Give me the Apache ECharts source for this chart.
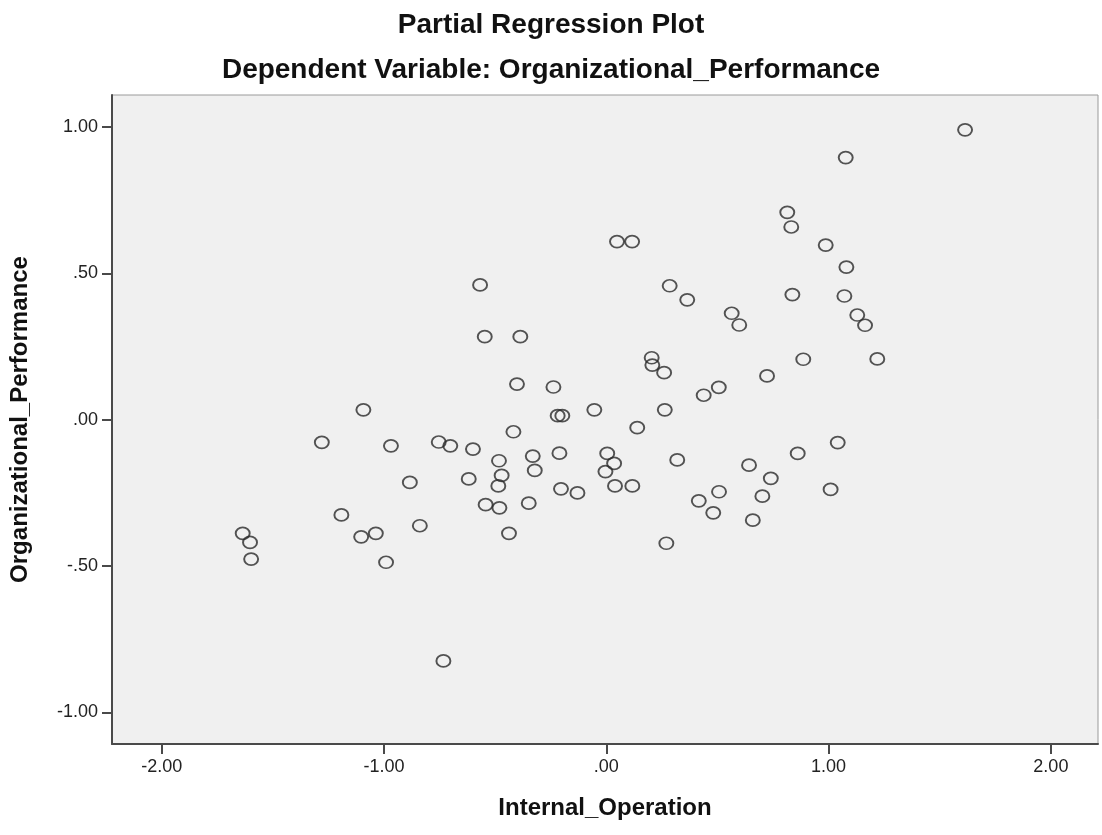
<!DOCTYPE html>
<html>
<head>
<meta charset="utf-8">
<title>Partial Regression Plot</title>
<script src="https://cdn.jsdelivr.net/npm/echarts@6/dist/echarts.min.js"></script>
<style>
    html, body { margin: 0; padding: 0; background: #fff; }
    #chart { width: 1102px; height: 835px; }
</style>
</head>
<body>
<div id="chart"></div>
<script>
    // residuals
    var internalOperation = [
        1.614, 1.077, 0.814, 0.832, 0.987, 0.048, 0.116, 1.080, -0.568, 0.285,
        0.364, 0.837, 1.071, 0.564, 0.598, 1.129, 1.164, -0.547, -0.387, 0.204,
        0.207, 0.260, 0.886, 1.219, 0.723, -0.402, -0.238, 0.506, 0.438, -1.093,
        -0.054, 0.263, -0.219, -0.198, 0.139, -1.280, -0.969, -0.754, -0.702, -0.600,
        -0.418, -0.483, -0.331, -0.211, 0.004, 0.035, -0.004, 0.319, 0.642, 0.740,
        0.861, 1.041, 1.009, -0.322, -0.884, -0.619, -0.471, -0.486, -0.204, -0.130,
        0.039, 0.117, 0.507, 0.416, 0.481, 0.702, 0.659, -0.543, -0.481, -0.349,
        -1.192, -0.438, -1.636, -1.603, -1.598, -1.103, -1.037, -0.839, -0.991, 0.270,
        -0.733
    ];
    var orgPerformance = [
        0.991, 0.896, 0.709, 0.659, 0.597, 0.609, 0.609, 0.522, 0.461, 0.458,
        0.410, 0.428, 0.423, 0.364, 0.324, 0.358, 0.323, 0.284, 0.284, 0.212,
        0.187, 0.161, 0.207, 0.208, 0.150, 0.122, 0.112, 0.111, 0.084, 0.034,
        0.034, 0.034, 0.014, 0.014, -0.027, -0.077, -0.089, -0.076, -0.089, -0.100,
        -0.041, -0.140, -0.124, -0.114, -0.115, -0.149, -0.177, -0.137, -0.155, -0.200,
        -0.115, -0.078, -0.238, -0.173, -0.214, -0.202, -0.190, -0.226, -0.236, -0.250,
        -0.226, -0.226, -0.246, -0.277, -0.318, -0.261, -0.343, -0.290, -0.301, -0.285,
        -0.325, -0.388, -0.388, -0.419, -0.476, -0.400, -0.388, -0.362, -0.487, -0.422,
        -0.824
    ];
    var xTicks = [-2, -1, 0, 1, 2];
    var yTicks = [-1, -0.5, 0, 0.5, 1];

    var points = internalOperation.map(function (x, i) {
        return [x, orgPerformance[i]];
    });

    // SPSS style: 1.00, .50, .00, -.50
    function spssLabel(v) {
        return v.toFixed(2).replace(/^(-?)0\./, '$1.');
    }

    var font = 'Liberation Sans, Arial, sans-serif';

    var chart = echarts.init(document.getElementById('chart'));
    chart.setOption({
        backgroundColor: '#ffffff',
        animation: false,
        title: [
            {
                text: 'Partial Regression Plot',
                left: 'center',
                top: 6,
                textStyle: { fontFamily: font, fontSize: 28, fontWeight: 'bold', color: '#111' }
            },
            {
                text: 'Dependent Variable: Organizational_Performance',
                left: 'center',
                top: 51,
                textStyle: { fontFamily: font, fontSize: 28, fontWeight: 'bold', color: '#111' }
            }
        ],
        grid: {
            left: 112,
            right: 4,
            top: 95,
            bottom: 91,
            show: true,
            backgroundColor: '#f0f0f0',
            borderColor: '#9a9a9a',
            borderWidth: 1
        },
        xAxis: {
            type: 'value',
            min: -2.224,
            max: 2.212,
            name: 'Internal_Operation',
            nameLocation: 'middle',
            nameGap: 52,
            nameTextStyle: { fontFamily: font, fontSize: 24, fontWeight: 'bold', color: '#111' },
            axisLine: { show: true, onZero: false, lineStyle: { color: '#4a4a4a', width: 2 } },
            axisTick: { show: true, length: 10, customValues: xTicks, lineStyle: { color: '#4a4a4a', width: 2 } },
            axisLabel: {
                customValues: xTicks,
                margin: 14,
                fontFamily: font,
                fontSize: 18,
                color: '#222',
                formatter: spssLabel
            },
            splitLine: { show: false }
        },
        yAxis: {
            type: 'value',
            min: -1.108,
            max: 1.110,
            name: 'Organizational_Performance',
            nameLocation: 'middle',
            nameRotate: 90,
            nameGap: 80,
            nameTextStyle: { fontFamily: font, fontSize: 24, fontWeight: 'bold', color: '#111' },
            axisLine: { show: true, onZero: false, lineStyle: { color: '#4a4a4a', width: 2 } },
            axisTick: { show: true, length: 10, customValues: yTicks, lineStyle: { color: '#4a4a4a', width: 2 } },
            axisLabel: {
                customValues: yTicks,
                margin: 14,
                fontFamily: font,
                fontSize: 18,
                color: '#222',
                formatter: spssLabel
            },
            splitLine: { show: false }
        },
        series: [
            {
                type: 'scatter',
                data: points,
                symbol: 'circle',
                symbolSize: [14, 12],
                itemStyle: {
                    color: 'rgba(0,0,0,0)',
                    borderColor: '#2a2a2a',
                    borderWidth: 1.8
                },
                silent: true
            }
        ]
    });
</script>
</body>
</html>
